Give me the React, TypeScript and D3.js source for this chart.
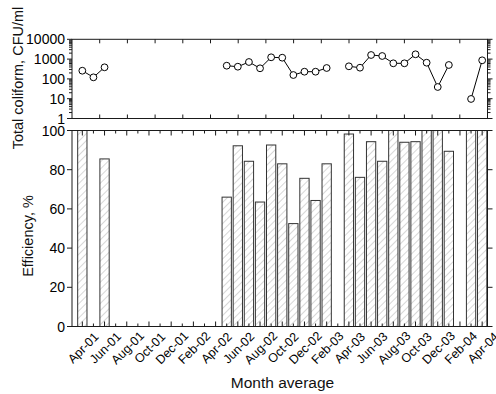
import React from "react";
import * as d3 from "d3";

const monthNames = [
  "Apr-01","May-01","Jun-01","Jul-01","Aug-01","Sep-01","Oct-01","Nov-01","Dec-01","Jan-02","Feb-02","Mar-02",
  "Apr-02","May-02","Jun-02","Jul-02","Aug-02","Sep-02","Oct-02","Nov-02","Dec-02","Jan-03","Feb-03","Mar-03",
  "Apr-03","May-03","Jun-03","Jul-03","Aug-03","Sep-03","Oct-03","Nov-03","Dec-03","Jan-04","Feb-04","Mar-04",
  "Apr-04",
];

const efficiency: (number | null)[] = [
  100, null, 85.5, null, null, null, null, null, null, null, null, null,
  null, 66, 92.2, 84.3, 63.5, 92.6, 83, 52.5, 75.6, 64.3, 83, null,
  98.2, 76.1, 94.3, 84.3, 100, 94, 94.3, 100, 100, 89.4, null, 100,
  100,
];

const coliform: (number | null)[] = [
  259, 120, 385, null, null, null, null, null, null, null, null, null,
  null, 464, 413, 714, 343, 1233, 1177, 157, 231, 231, 355, null,
  433, 368, 1610, 1435, 613, 613, 1747, 658, 39, 504, null, 9.7,
  869,
];

const effTicks = [0, 20, 40, 60, 80, 100];
const colTicks = [1, 10, 100, 1000, 10000];

const FONT = "'Liberation Sans', Arial, Helvetica, sans-serif";

export default function App() {
  const W = 496, H = 394;
  const left = 72, right = 487.5;
  const topT = 39.3, topB = 118.5;
  const botT = 130.5, botB = 326.5;

  const x = d3.scaleLinear().domain([-0.93, 36.48]).range([left, right]);
  const yE = d3.scaleLinear().domain([0, 100]).range([botB, botT]);
  const yC = d3.scaleLog().domain([1, 10000]).range([topB, topT]);

  const barW = 9.3;
  const idx = monthNames.map((_, i) => i);

  const line = d3
    .line<number>()
    .defined((i) => coliform[i] != null)
    .x((i) => x(i))
    .y((i) => yC(coliform[i] as number));

  const minor: number[] = [];
  for (let d = 1; d < 10000; d *= 10) {
    for (let k = 2; k <= 9; k++) minor.push(d * k);
  }

  const topTickScale = d3.scaleLinear().domain([0, 15]).range([left, right]);
  const topTicks = d3.range(1, 15);

  const stroke = "#1a1a1a";

  return (
    <svg
      width={W}
      height={H}
      style={{ position: "absolute", left: 0, top: 0, background: "#fff" }}
      fontFamily={FONT}
    >
      <defs>
        <pattern id="hatch" patternUnits="userSpaceOnUse" width="5" height="5" patternTransform="rotate(45)">
          <rect width="5" height="5" fill="#fff" />
          <line x1="0" y1="0" x2="0" y2="5" stroke="#b0b0b0" strokeWidth="1" />
        </pattern>
        <clipPath id="botClip">
          <rect x={left} y={botT - 1} width={right - left} height={botB - botT + 1} />
        </clipPath>
      </defs>

      {/* ===== Top panel ===== */}
      <g>
        {topTicks.map((t) => (
          <g key={"tt" + t}>
            <line x1={topTickScale(t)} x2={topTickScale(t)} y1={topT} y2={topT + 4} stroke={stroke} />
            <line x1={topTickScale(t)} x2={topTickScale(t)} y1={topB} y2={topB - 4} stroke={stroke} />
          </g>
        ))}
        {colTicks.map((t) => (
          <g key={"ct" + t}>
            <line x1={left} x2={left - 5} y1={yC(t)} y2={yC(t)} stroke={stroke} />
            <line x1={right} x2={right + 5} y1={yC(t)} y2={yC(t)} stroke={stroke} />
            <text x={left - 7} y={yC(t)} textAnchor="end" dominantBaseline="central" fontSize={14}>
              {t}
            </text>
          </g>
        ))}
        {minor.map((t) => (
          <g key={"cm" + t}>
            <line x1={left} x2={left - 3} y1={yC(t)} y2={yC(t)} stroke={stroke} />
            <line x1={right} x2={right + 3} y1={yC(t)} y2={yC(t)} stroke={stroke} />
          </g>
        ))}
        <rect x={left} y={topT} width={right - left} height={topB - topT} fill="none" stroke={stroke} />
        <path d={line(idx) || ""} fill="none" stroke="#000" strokeWidth={1} />
        {idx
          .filter((i) => coliform[i] != null)
          .map((i) => (
            <circle key={"p" + i} cx={x(i)} cy={yC(coliform[i] as number)} r={3.4} fill="#fff" stroke="#000" strokeWidth={1} />
          ))}
        <text
          transform={`translate(23,78) rotate(-90)`}
          textAnchor="middle"
          fontSize={14.5}
          fill="#111"
        >
          Total coliform, CFU/ml
        </text>
      </g>

      {/* ===== Bottom panel ===== */}
      <g>
        <g clipPath="url(#botClip)">
          {idx
            .filter((i) => efficiency[i] != null)
            .map((i) => (
              <rect
                key={"b" + i}
                x={x(i) - barW / 2}
                y={yE(efficiency[i] as number)}
                width={barW}
                height={botB - yE(efficiency[i] as number)}
                fill="url(#hatch)"
                stroke="#333"
                strokeWidth={1}
              />
            ))}
        </g>
        {idx.map((i) => {
          const len = i % 2 === 0 ? 5 : 3;
          return (
            <g key={"xt" + i}>
              <line x1={x(i)} x2={x(i)} y1={botB} y2={botB - len} stroke={stroke} />
              <line x1={x(i)} x2={x(i)} y1={botT} y2={botT + len} stroke={stroke} />
            </g>
          );
        })}
        {effTicks.map((t) => (
          <g key={"et" + t}>
            <line x1={left} x2={left - 5} y1={yE(t)} y2={yE(t)} stroke={stroke} />
            <line x1={right} x2={right + 5} y1={yE(t)} y2={yE(t)} stroke={stroke} />
            <text x={left - 7} y={yE(t)} textAnchor="end" dominantBaseline="central" fontSize={14}>
              {t}
            </text>
          </g>
        ))}
        <rect x={left} y={botT} width={right - left} height={botB - botT} fill="none" stroke={stroke} />
        {idx
          .filter((i) => i % 2 === 0)
          .map((i) => (
            <text
              key={"xl" + i}
              transform={`translate(${x(i) + 1},348) rotate(-45)`}
              textAnchor="middle"
              dominantBaseline="central"
              fontSize={12.5}
            >
              {monthNames[i]}
            </text>
          ))}
        <text
          transform={`translate(33,236) rotate(-90)`}
          textAnchor="middle"
          fontSize={14.5}
          fill="#111"
        >
          Efficiency, %
        </text>
        <text x={282.5} y={388} textAnchor="middle" fontSize={15.5} fill="#111">
          Month average
        </text>
      </g>
    </svg>
  );
}
